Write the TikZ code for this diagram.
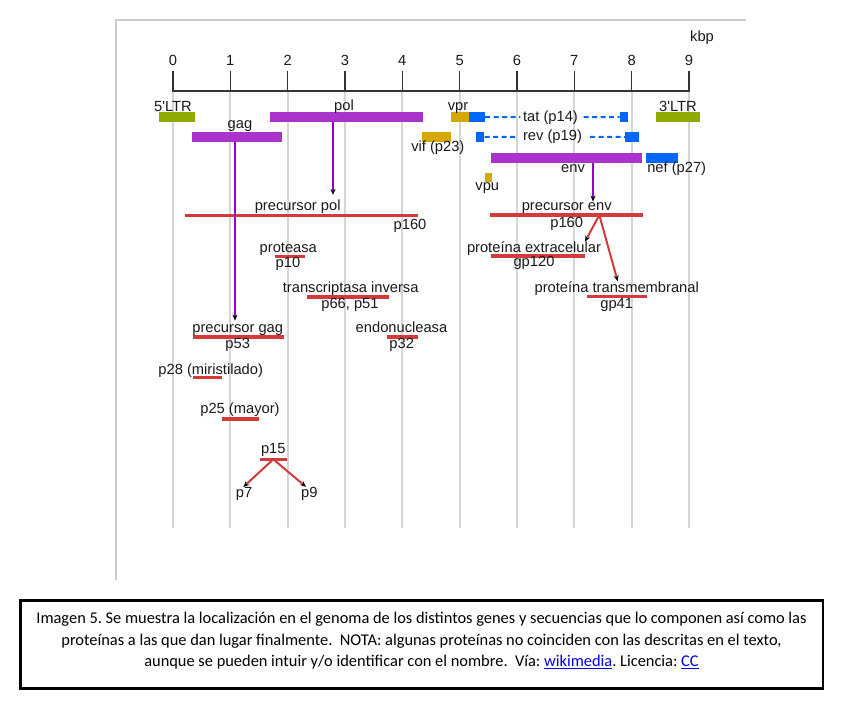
\documentclass[tikz,border=0pt]{standalone}
\usepackage{fontspec}
\setmainfont{Liberation Sans}
\newfontfamily\capfont{Carlito}
\usetikzlibrary{arrows.meta}

\definecolor{ltrgreen}{RGB}{143,170,0}
\definecolor{genepurple}{RGB}{170,51,204}
\definecolor{arrowpurple}{RGB}{153,0,204}
\definecolor{genegold}{RGB}{212,168,0}
\definecolor{geneblue}{RGB}{0,102,255}
\definecolor{protred}{RGB}{212,58,58}
\definecolor{gridgrey}{RGB}{214,214,214}
\definecolor{framegrey}{RGB}{204,204,204}
\definecolor{axisgrey}{RGB}{51,51,51}
\definecolor{linkblue}{RGB}{0,0,238}

\tikzset{
  lbl/.style={font=\fontsize{14.7}{16}\selectfont, text=black!90, inner sep=0pt, anchor=base},
  caption/.style={font=\capfont\fontsize{16.4}{18}\selectfont\frenchspacing, inner sep=0pt, anchor=base},
  gene/.style={rectangle, inner sep=0pt, minimum height=9.5pt},
  protline/.style={draw=protred, line width=3.5pt},
  splice/.style={draw=geneblue, line width=2pt, dash pattern=on 5pt off 3.5pt},
  gagarrow/.style={draw=arrowpurple, line width=2pt, -{Stealth[length=6pt,width=5pt,color=black]}},
  redarrow/.style={draw=protred, line width=2pt, -{Stealth[length=6pt,width=5pt,color=black]}}
}

\begin{document}
\begin{tikzpicture}[x=1pt,y=-1pt]
\useasboundingbox (0,0) rectangle (850,702);

\draw[framegrey, line width=1.5pt] (116,580) -- (116,20) -- (746,20);
\foreach \k in {0,...,9}{
  \draw[gridgrey, line width=2pt] ({173+57.33*\k},91) -- ({173+57.33*\k},528);
  \draw[axisgrey, line width=1.5pt] ({173+57.33*\k},70.5) -- ({173+57.33*\k},91);
  \node[lbl] (tick\k) at ({173+57.33*\k},65) {\k};
}
\draw[axisgrey, line width=1.5pt] (172.25,91) -- (689.75,91);
\node[lbl] (kbp) at (702,41) {kbp};

% genes
\node[gene, fill=ltrgreen, minimum width=36pt] (ltr5) at (177.3,117) {};
\node[gene, fill=genepurple, minimum width=152.4pt] (pol) at (346.5,117) {};
\node[gene, fill=genegold, minimum width=18.3pt] (vpr) at (459.85,117) {};
\node[gene, fill=geneblue, minimum width=16pt] (tat1) at (477,117) {};
\node[gene, fill=geneblue, minimum width=8.6pt] (tat2) at (624,117) {};
\node[gene, fill=ltrgreen, minimum width=44pt] (ltr3) at (678,117) {};
\node[gene, fill=genepurple, minimum width=90pt] (gag) at (237,137) {};
\node[gene, fill=genegold, minimum width=29pt] (vif) at (436.2,137) {};
\node[gene, fill=geneblue, minimum width=8.6pt] (rev1) at (480,137) {};
\node[gene, fill=geneblue, minimum width=14.3pt] (rev2) at (632.15,137) {};
\node[gene, fill=genepurple, minimum width=151.6pt, minimum height=10pt] (env) at (566.5,157.7) {};
\node[gene, fill=geneblue, minimum width=32.3pt, minimum height=10pt] (nef) at (662.15,157.7) {};
\node[gene, fill=genegold, minimum width=6.7pt] (vpu) at (488.35,177.5) {};

\node[lbl] (ltr5l) at (173,111.5) {5\textquotesingle LTR};
\node[lbl] (poll) at (344,110) {pol};
\node[lbl] (gagl) at (240,128.3) {gag};
\node[lbl] (vprl) at (458,110) {vpr};
\node[lbl] (tatl) at (550.5,121) {tat (p14)};
\node[lbl] (ltr3l) at (678,111.5) {3\textquotesingle LTR};
\node[lbl] (revl) at (552.5,140.7) {rev (p19)};
\node[lbl] (vifl) at (437.8,151.7) {vif (p23)};
\node[lbl] (envl) at (573,172.3) {env};
\node[lbl] (nefl) at (676.7,172.3) {nef (p27)};
\node[lbl] (vpul) at (487.3,190.7) {vpu};

\draw[splice] (tat1.east) -- ([xshift=-2.5pt]tatl.west);
\draw[splice] ([xshift=5.5pt]tatl.east) -- (tat2.west);
\draw[splice] (rev1.east) -- ([xshift=-6pt]revl.west);
\draw[splice] ([xshift=8pt]revl.east) -- (rev2.west);

% proteins
\draw[protline] (185,215.7) -- (417.7,215.7);
\draw[protline] (275,256.3) -- (305,256.3);
\draw[protline] (307.3,297) -- (389.3,297);
\draw[protline] (193.3,337) -- (284,337);
\draw[protline] (386.7,337) -- (417.7,337);
\draw[protline] (490,215) -- (642.7,215);
\draw[protline] (490.7,256) -- (585,256);
\draw[protline] (586.7,296.7) -- (646.7,296.7);
\draw[protline] (193.3,377.7) -- (221.7,377.7);
\draw[protline] (222,419) -- (259.3,419);
\draw[protline] (260,459.3) -- (286.7,459.3);

\node[lbl] (polp) at (297.7,210.7) {precursor pol};
\node[lbl] (polpn) at (410,229.3) {p160};
\node[lbl] (prot) at (288.3,252.7) {proteasa};
\node[lbl] (protn) at (288,267.7) {p10};
\node[lbl] (rt) at (350.7,292.7) {transcriptasa inversa};
\node[lbl] (rtn) at (350,308.3) {p66, p51};
\node[lbl] (gagp) at (237.7,332.7) {precursor gag};
\node[lbl] (gagpn) at (237.7,348.3) {p53};
\node[lbl] (endo) at (401.5,332.7) {endonucleasa};
\node[lbl] (endon) at (401.7,348.3) {p32};
\node[lbl] (envp) at (566.7,210.7) {precursor env};
\node[lbl] (envpn) at (566.7,227.3) {p160};
\node[lbl] (pext) at (534,252.7) {proteína extracelular};
\node[lbl] (pextn) at (534,266.7) {gp120};
\node[lbl] (ptm) at (616.7,292.3) {proteína transmembranal};
\node[lbl] (ptmn) at (616.7,308.3) {gp41};
\node[lbl] (p28) at (210.7,374) {p28 (miristilado)};
\node[lbl] (p25) at (240,413.3) {p25 (mayor)};
\node[lbl] (p15) at (273.3,453.3) {p15};
\node[lbl] (p7) at (244,497.3) {p7};
\node[lbl] (p9) at (309.3,497.3) {p9};

\draw[gagarrow, shorten >=4pt] (gag.south -| 235,0) -- (gagp.north -| 235,0);
\draw[gagarrow, shorten >=5pt] (pol.south -| 333,0) -- (polp.north -| 333,0);
\draw[gagarrow, shorten >=1pt] (env.south -| 593,0) -- (envp.north -| 593,0);

\coordinate (envsplit) at (599.3,215);
\coordinate (p15split) at (273.3,459.3);
\draw[redarrow] (envsplit) -- (pext.north -| 585,0);
\draw[redarrow] (envsplit) -- (ptm.north -| 617.7,0);
\draw[redarrow] (p15split) -- (p7.north -| 243.3,0);
\draw[redarrow] (p15split) -- (p9.north -| 306,0);

% caption
\draw[black, line width=2.7pt] (20.7,600.5) rectangle (823,688.5);
\node[caption] (cap1) at (421.5,623.3) {Imagen 5. Se muestra la localización en el genoma de los distintos genes y secuencias que lo componen así como las};
\node[caption] (cap2) at (421.5,645) {proteínas a las que dan lugar finalmente.\ \ NOTA: algunas proteínas no coinciden con las descritas en el texto,};
\node[caption] (cap3) at (421.5,666.7) {aunque se pueden intuir y/o identificar con el nombre.\ \ Vía: \textcolor{linkblue}{\underline{wikimedia}}. Licencia: \textcolor{linkblue}{\underline{CC}}};
\end{tikzpicture}
\end{document}
